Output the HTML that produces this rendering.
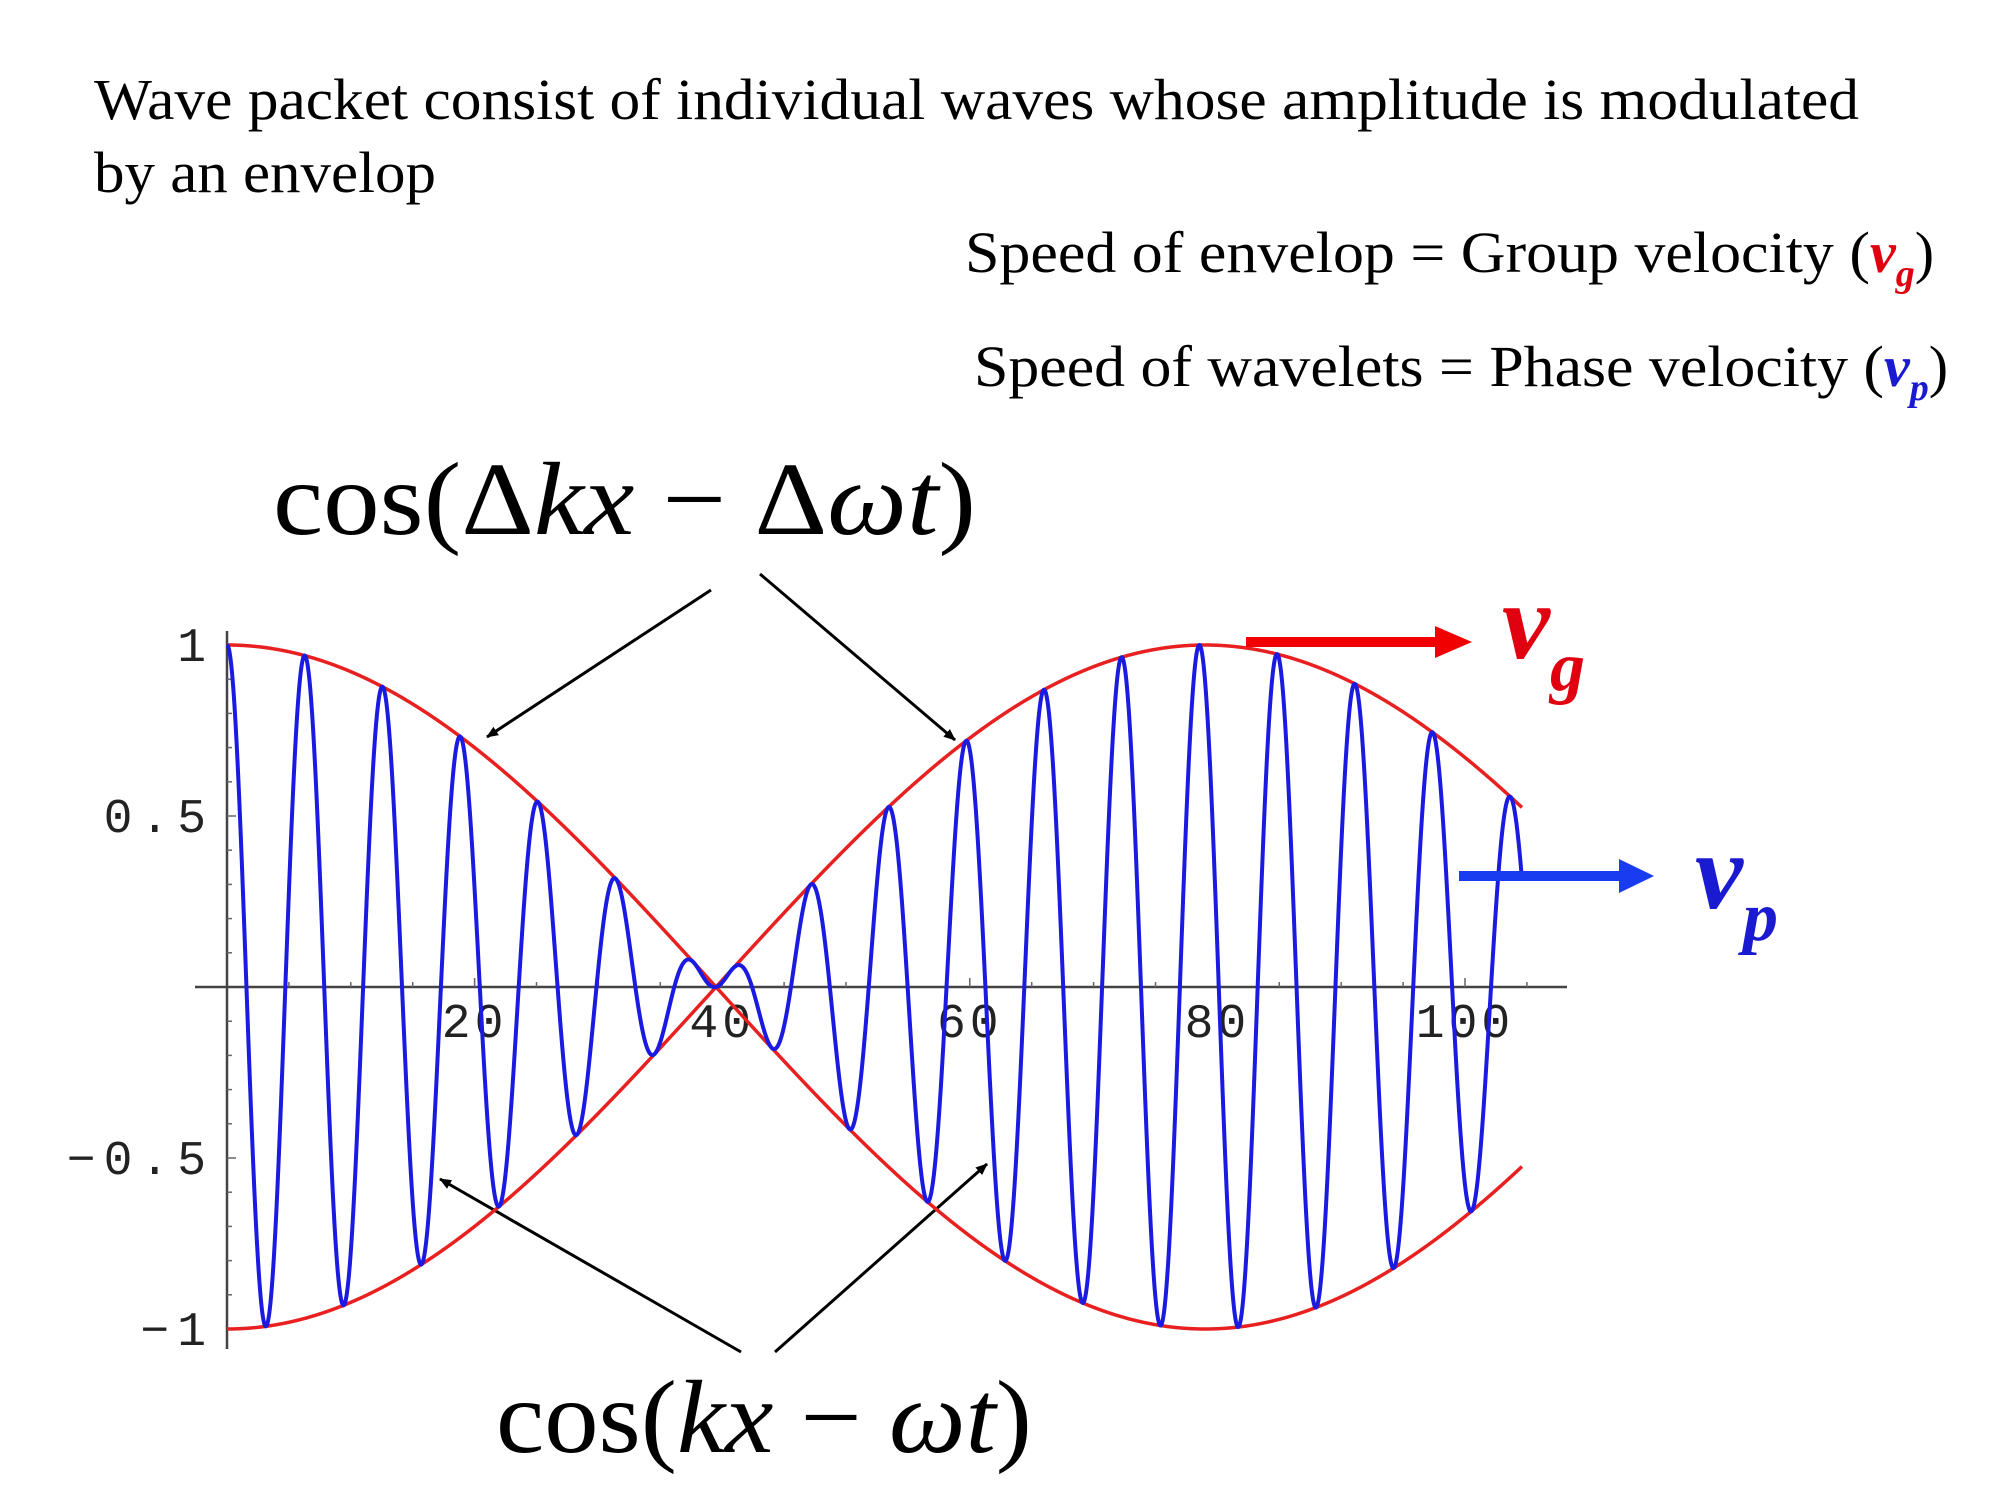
<!DOCTYPE html>
<html><head><meta charset="utf-8"><style>
html,body{margin:0;padding:0;background:#fff;width:2000px;height:1500px;overflow:hidden}
svg{display:block}
.serif{font-family:"Liberation Serif",serif}
.mono{font-family:"Liberation Mono",monospace;fill:#222}
</style></head><body>
<svg id="chart" width="2000" height="1500" viewBox="0 0 2000 1500" xmlns="http://www.w3.org/2000/svg">
<defs>
<marker id="ah" markerWidth="12" markerHeight="10" refX="11" refY="5" orient="auto" markerUnits="userSpaceOnUse"><path d="M0,0 L12,5 L0,10 z" fill="#000"/></marker>
</defs>
<text class="serif" x="94" y="119" font-size="58" textLength="1765" lengthAdjust="spacingAndGlyphs">Wave packet consist of individual waves whose amplitude is modulated</text>
<text class="serif" x="94" y="192" font-size="58" textLength="342" lengthAdjust="spacingAndGlyphs">by an envelop</text>
<text class="serif" x="965" y="272" font-size="58"><tspan textLength="905" lengthAdjust="spacingAndGlyphs">Speed of envelop = Group velocity (</tspan><tspan fill="#e00010" font-weight="bold" font-style="italic">v</tspan><tspan fill="#e00010" font-weight="bold" font-style="italic" font-size="38" dy="14">g</tspan><tspan dy="-14">)</tspan></text>
<text class="serif" x="974" y="386" font-size="58"><tspan textLength="910" lengthAdjust="spacingAndGlyphs">Speed of wavelets = Phase velocity (</tspan><tspan fill="#1a1ad0" font-weight="bold" font-style="italic">v</tspan><tspan fill="#1a1ad0" font-weight="bold" font-style="italic" font-size="38" dy="14">p</tspan><tspan dy="-14">)</tspan></text>
<text class="serif" x="273" y="534" font-size="104" textLength="703" lengthAdjust="spacingAndGlyphs">cos(Δ<tspan font-style="italic">kx</tspan> − Δ<tspan font-style="italic">ωt</tspan>)</text>
<text class="serif" x="496" y="1452" font-size="104" textLength="536" lengthAdjust="spacingAndGlyphs">cos(<tspan font-style="italic">kx</tspan> − <tspan font-style="italic">ωt</tspan>)</text>
<g stroke="#000" stroke-width="3" marker-end="url(#ah)">
<line x1="711" y1="590" x2="487" y2="737"/>
<line x1="760" y1="574" x2="955" y2="740"/>
<line x1="741" y1="1352" x2="440" y2="1179"/>
<line x1="775" y1="1352" x2="987" y2="1164"/>
</g>
<g id="axes"></g>
<g id="plot"></g>
<g>
<rect x="1246" y="637" width="194" height="10" fill="#f00000"/>
<path d="M1435,626 L1472,642 L1435,658 z" fill="#f00000"/>
</g>
<text class="serif" x="1502" y="658" font-size="108" font-weight="bold" font-style="italic" fill="#e00010">v<tspan font-size="70" dy="32">g</tspan></text>
<g>
<rect x="1459" y="871" width="165" height="10" fill="#1a3cf0"/>
<path d="M1619,859 L1654,876 L1619,893 z" fill="#1a3cf0"/>
</g>
<text class="serif" x="1695" y="908" font-size="108" font-weight="bold" font-style="italic" fill="#1a1ad0">v<tspan font-size="70" dy="32">p</tspan></text>
</svg>
<script>
// Curve parameters
const carrierK = [1.0];
const envelopeDK = [Math.PI / 79];
const xDomain = [0, 104.6];
const xTicks = [20, 40, 60, 80, 100];
const xTickLabels = ["20", "40", "60", "80", "100"];
const yTicks = [1, 0.5, -0.5, -1];
const yTickLabels = ["1", "0.5", "\u22120.5", "\u22121"];

const X0 = 227, XS = 12.38, Y0 = 987, YS = 342;
const sx = v => X0 + v * XS;
const sy = v => Y0 - v * YS;
const NS = "http://www.w3.org/2000/svg";
const axes = document.getElementById('axes');
const plot = document.getElementById('plot');
function mk(tag, attrs, parent) {
  const e = document.createElementNS(NS, tag);
  for (const k in attrs) e.setAttribute(k, attrs[k]);
  parent.appendChild(e);
  return e;
}
let xa = mk('line', {x1: 195, x2: 1567, y1: sy(0), y2: sy(0), stroke: '#444', 'stroke-width': 2.5}, axes);


let ya = mk('line', {x1: X0, x2: X0, y1: 631, y2: 1349, stroke: '#444', 'stroke-width': 2.5}, axes);


for (let v = 5; v <= 105; v += 5) {
  const major = v % 20 === 0;
  let t = mk('line', {x1: sx(v), x2: sx(v), y1: sy(0), y2: sy(0) - (major ? 9 : 5), stroke: '#666', 'stroke-width': 1.5}, axes);
  
  
}
for (let i = -10; i <= 10; i++) {
  if (i === 0) continue;
  const v = i / 10;
  const major = i % 5 === 0;
  let t = mk('line', {x1: X0, x2: X0 + (major ? 9 : 5), y1: sy(v), y2: sy(v), stroke: '#666', 'stroke-width': 1.5}, axes);
  
  
}
xTicks.forEach((v, i) => {
  let t = mk('text', {x: sx(v), y: sy(0) + 50, 'text-anchor': 'middle', class: 'mono', 'font-size': 48, 'letter-spacing': '4'}, axes);
  t.textContent = xTickLabels[i];
  
  
});
yTicks.forEach((v, i) => {
  let t = mk('text', {x: 214, y: sy(v) + 16, 'text-anchor': 'end', class: 'mono', 'font-size': 48, 'letter-spacing': '8'}, axes);
  t.textContent = yTickLabels[i];
  
  
});
const N = 3000;
let pw = '', pe1 = '', pe2 = '';
for (let i = 0; i <= N; i++) {
  const x = xDomain[0] + (xDomain[1] - xDomain[0]) * i / N;
  const env = Math.cos(envelopeDK[0] * x);
  const w = env * Math.cos(carrierK[0] * x);
  const c = i ? 'L' : 'M';
  pw += c + sx(x).toFixed(2) + ',' + sy(w).toFixed(2);
  pe1 += c + sx(x).toFixed(2) + ',' + sy(env).toFixed(2);
  pe2 += c + sx(x).toFixed(2) + ',' + sy(-env).toFixed(2);
}
let e1 = mk('path', {d: pe1, fill: 'none', stroke: '#e82020', 'stroke-width': 3.5}, plot);


let e2 = mk('path', {d: pe2, fill: 'none', stroke: '#e82020', 'stroke-width': 3.5}, plot);


let wv = mk('path', {d: pw, fill: 'none', stroke: '#1a1ae0', 'stroke-width': 4}, plot);


</script>
</body></html>
